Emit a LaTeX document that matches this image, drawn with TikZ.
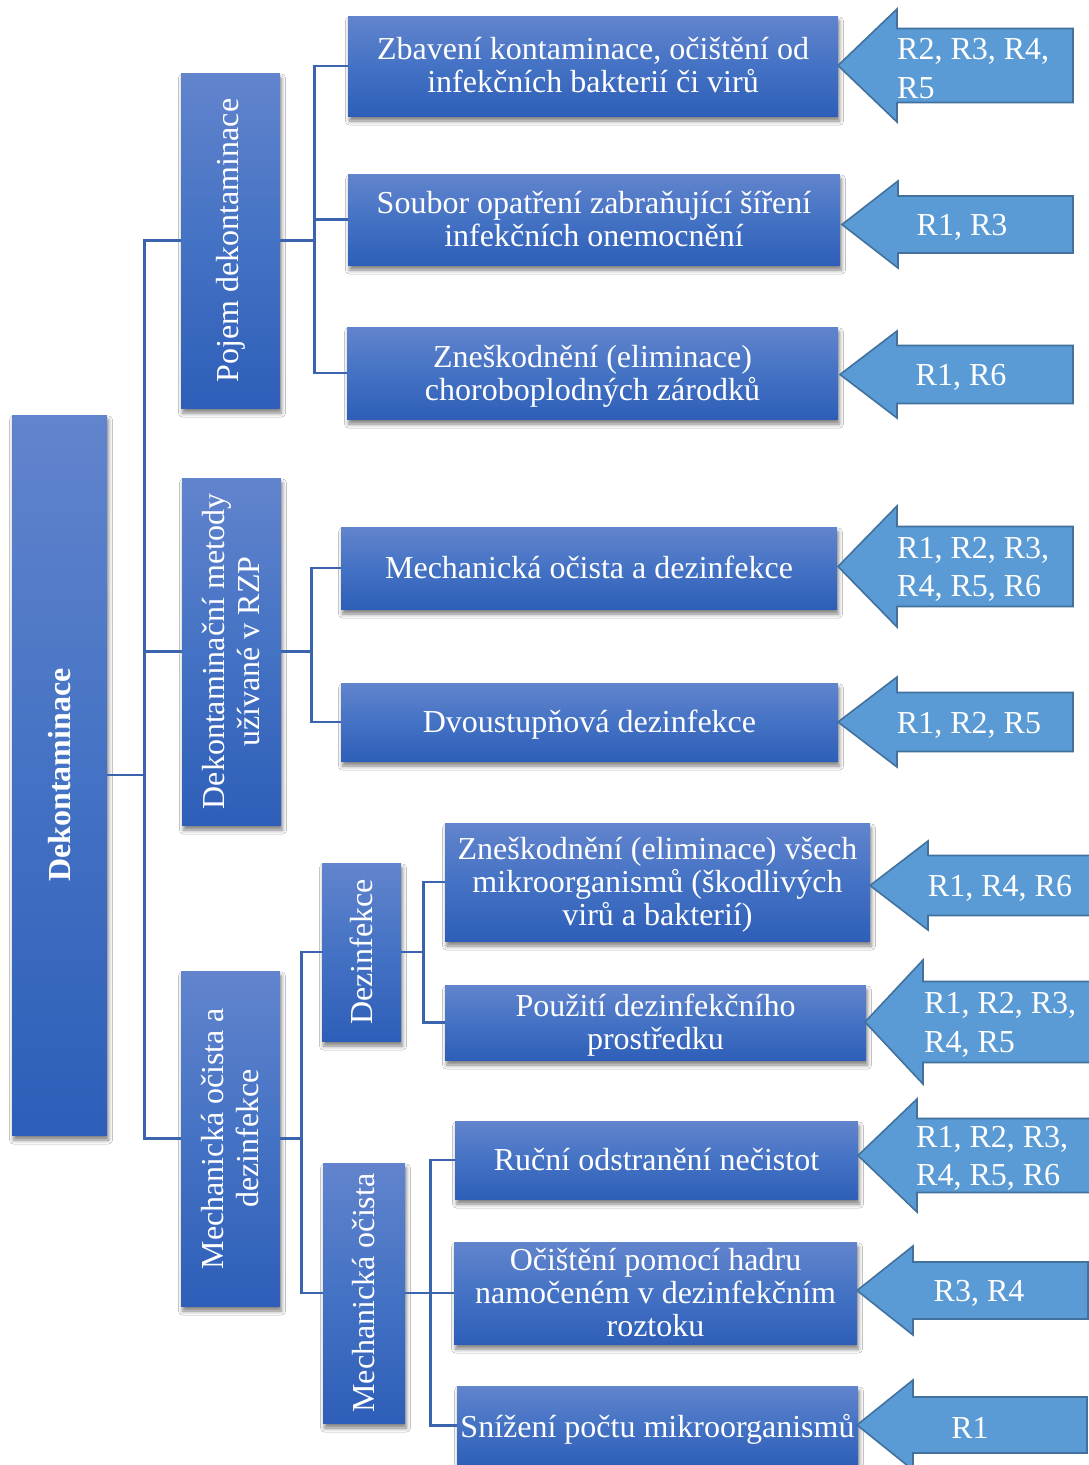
\documentclass[tikz,border=0pt]{standalone}
\usepackage{fontspec}
\setmainfont{Liberation Serif}
\usetikzlibrary{shadows.blur}
\definecolor{boxtop}{RGB}{98,132,205}
\definecolor{boxmid}{RGB}{68,114,196}
\definecolor{boxbot}{RGB}{46,94,184}
\definecolor{conncol}{RGB}{59,100,174}
\definecolor{arrfill}{RGB}{91,155,213}
\definecolor{arrdraw}{RGB}{65,113,156}
\tikzset{
  box/.style={top color=boxtop, bottom color=boxbot, middle color=boxmid, draw=none,
    blur shadow={shadow xshift=1.5pt, shadow yshift=-5pt, shadow blur radius=4pt, shadow opacity=50},
    inner sep=0pt},
  htext/.style={text=white, align=center, inner sep=0pt, font=\fontsize{32}{33}\selectfont},
  vlabel/.style={rotate=90, text=white, align=center, inner sep=0pt, font=\fontsize{32}{35}\selectfont},
  conn/.style={draw=conncol, line width=2.8pt},
  arrowshape/.style={fill=arrfill, draw=arrdraw, line width=1.6pt, line join=miter},
  arrtext/.style={text=white, inner sep=0pt, align=left, yshift=-3pt, font=\fontsize{32}{38.5}\selectfont},
}
% box: name, x1, y1, x2, y2, text, text shift down
\newcommand\mkbox[7]{\node[box, minimum width={(#4-#2)*1pt}, minimum height={(#5-#3)*1pt}] (#1) at ({(#2+#4)/2},{(#3+#5)/2}) {};
  \node[htext, yshift={-(#7)*1pt}] (#1t) at (#1.center) {#6};}
\newcommand\mkvbox[6]{\node[box, minimum width={(#4-#2)*1pt}, minimum height={(#5-#3)*1pt}] (#1) at ({(#2+#4)/2},{(#3+#5)/2}) {};
  \node[vlabel] (#1t) at (#1.center) {#6};}
\newcommand\mkarrow[6]{\draw[arrowshape] (#1,#2) -- ({#3},{#2-#4}) -- ({#3},{#2-#5}) -- ({#6},{#2-#5}) -- ({#6},{#2+#5}) -- ({#3},{#2+#5}) -- ({#3},{#2+#4}) -- cycle;}
\begin{document}
\begin{tikzpicture}[x=1pt, y=-1pt]
\useasboundingbox (0,0) rectangle (1089,1465);
\fill[white] (0,0) rectangle (1089,1465);

% boxes
\mkvbox{main}{12}{415}{107}{1135}{\bfseries Dekontaminace}
\mkvbox{pojem}{181}{73}{280}{408}{Pojem dekontaminace}
\mkvbox{metody}{182}{478}{281}{825}{Dekontaminační metody\\užívané v RZP}
\mkvbox{mech}{181}{971}{280}{1306}{Mechanická očista a\\dezinfekce}
\mkvbox{dez}{322}{863}{401}{1041}{Dezinfekce}
\mkvbox{mo}{323}{1163}{405}{1423}{Mechanická očista}

\mkbox{b1}{348}{16}{838}{116}{Zbavení kontaminace, očištění od\\infekčních bakterií či virů}{-1}
\mkbox{b2}{348}{174}{840}{265}{Soubor opatření zabraňující šíření\\infekčních onemocnění}{0}
\mkbox{b3}{347}{327}{838}{419}{Zneškodnění (eliminace)\\choroboplodných zárodků}{3}
\mkbox{m1}{341}{527}{837}{609}{Mechanická očista a dezinfekce}{-1}
\mkbox{m2}{341}{683}{838}{761}{Dvoustupňová dezinfekce}{3}
\mkbox{d1}{445}{823}{870}{941}{Zneškodnění (eliminace) všech\\mikroorganismů (škodlivých\\virů a bakterií)}{3}
\mkbox{d2}{445}{985}{866}{1060}{Použití dezinfekčního\\prostředku}{3}
\mkbox{o1}{455}{1121}{858}{1199}{Ruční odstranění nečistot}{0}
\mkbox{o2}{454}{1242}{857}{1344}{Očištění pomocí hadru\\namočeném v dezinfekčním\\roztoku}{0}
\mkbox{o3}{457}{1386}{858}{1465}{Snížení počtu mikroorganismů}{4}

% connectors
\foreach \c in {pojem,metody,mech} \draw[conn] (main.east) -- ++(37,0) |- (\c.west);
\foreach \c in {b1,b2,b3} \draw[conn] (pojem.east) -- ++(34,0) |- (\c.west);
\foreach \c in {m1,m2} \draw[conn] (metody.east) -- ++(30,0) |- (\c.west);
\foreach \c in {dez,mo} \draw[conn] (mech.east) -- ++(21,0) |- (\c.west);
\foreach \c in {d1,d2} \draw[conn] (dez.east) -- ++(22,0) |- (\c.west);
\foreach \c in {o1,o2,o3} \draw[conn] (mo.east) -- ++(25,0) |- (\c.west);

% arrows
\mkarrow{838}{65.5}{897}{56.5}{37}{1073}
\mkarrow{842}{224.5}{898}{43.5}{28.5}{1073}
\mkarrow{840}{374.5}{897}{43.5}{29}{1073}
\mkarrow{838}{566.5}{897}{60.5}{40}{1073}
\mkarrow{838}{722}{897}{45}{29.5}{1073}
\mkarrow{870}{885.5}{928}{44.5}{30}{1100}
\mkarrow{865}{1022}{923}{62}{40.5}{1100}
\mkarrow{858}{1155.5}{917}{56.5}{37}{1100}
\mkarrow{857}{1290.5}{913}{44.5}{28.5}{1088}
\mkarrow{857}{1425}{913}{45}{28}{1087}

\node[arrtext, anchor=west] (t1) at (897,65.5) {R2, R3, R4,\\R5};
\node[arrtext] (t2) at (962,224.5) {R1, R3};
\node[arrtext] (t3) at (961,374.5) {R1, R6};
\node[arrtext, anchor=west] (t4) at (897,566.5) {R1, R2, R3,\\R4, R5, R6};
\node[arrtext] (t5) at (969,722) {R1, R2, R5};
\node[arrtext] (t6) at (1000,885.5) {R1, R4, R6};
\node[arrtext, anchor=west] (t7) at (924,1022) {R1, R2, R3,\\R4, R5};
\node[arrtext, anchor=west] (t8) at (916,1155.5) {R1, R2, R3,\\R4, R5, R6};
\node[arrtext] (t9) at (979,1290.5) {R3, R4};
\node[arrtext] (t10) at (970,1425) {R1};
\end{tikzpicture}
\end{document}
